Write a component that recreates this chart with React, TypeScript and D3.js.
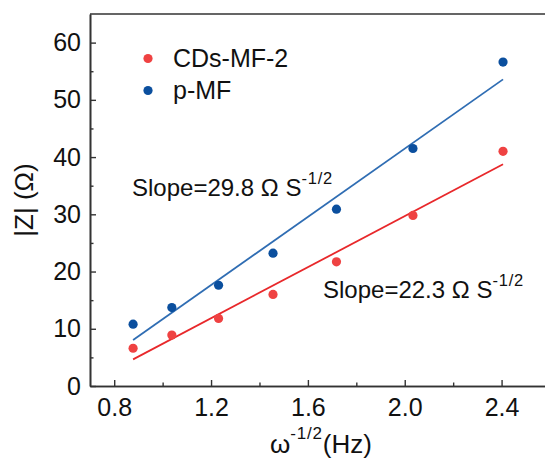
import { useEffect, useRef } from "react";
import * as d3 from "d3";

// omega^-1/2 values (shared by both series)
const xValues = [0.878, 1.038, 1.231, 1.456, 1.718, 2.034, 2.406];
const cdsValues = [6.6, 8.9, 11.8, 16.0, 21.7, 29.8, 41.0];
const pmfValues = [10.8, 13.7, 17.6, 23.2, 30.9, 41.5, 56.6];

// linear fits
const cdsFit = { slope: 22.3, intercept: -14.92 };
const pmfFit = { slope: 29.8, intercept: -18.12 };

const xMajorTicks = [0.8, 1.2, 1.6, 2.0, 2.4];
const xMinorTicks = [1.0, 1.4, 1.8, 2.2];
const yMajorTicks = [0, 10, 20, 30, 40, 50, 60];
const yMinorTicks = [5, 15, 25, 35, 45, 55];

const seriesNames = ["CDs-MF-2", "p-MF"];

const RED_DOT = "#ef4242";
const RED_LINE = "#e8282b";
const BLUE_DOT = "#0b4f9e";
const BLUE_LINE = "#2f6db3";
const AXIS = "#333333";
const FONT = "Arial, 'Liberation Sans', sans-serif";

function App() {
  const ref = useRef<SVGSVGElement>(null);

  useEffect(() => {
    const svg = d3.select(ref.current);
    svg.selectAll("*").remove();

    const width = 545;
    const height = 460;
    const margin = { top: 14, left: 90, bottom: 74 };

    const x = d3.scaleLinear().domain([0.7, 2.6]).range([margin.left, 550]);
    const y = d3
      .scaleLinear()
      .domain([0, 65])
      .range([height - margin.bottom, margin.top]);

    svg.attr("width", width).attr("height", height);

    // fit lines
    const fits = [
      { fit: cdsFit, color: RED_LINE },
      { fit: pmfFit, color: BLUE_LINE },
    ];
    const x0 = d3.min(xValues)!;
    const x1 = d3.max(xValues)!;
    fits.forEach(({ fit, color }) => {
      const line = d3
        .line<number>()
        .x((d) => x(d))
        .y((d) => y(fit.slope * d + fit.intercept));
      svg
        .append("path")
        .datum([x0, x1])
        .attr("d", line)
        .attr("fill", "none")
        .attr("stroke", color)
        .attr("stroke-width", 1.8);
    });

    // points
    const series = [
      { values: cdsValues, color: RED_DOT },
      { values: pmfValues, color: BLUE_DOT },
    ];
    series.forEach(({ values, color }) => {
      svg
        .append("g")
        .selectAll("circle")
        .data(values)
        .enter()
        .append("circle")
        .attr("cx", (_, i) => x(xValues[i]))
        .attr("cy", (d) => y(d))
        .attr("r", 4.6)
        .attr("fill", color);
    });

    // axes
    const styleAxis = (g: any) => {
      g.select(".domain").attr("stroke", AXIS).attr("stroke-width", 1.6);
      g.selectAll(".tick line").attr("stroke", AXIS).attr("stroke-width", 1.4);
      g.selectAll(".tick text")
        .attr("fill", "#111")
        .attr("font-size", 25)
        .attr("font-family", FONT);
    };

    svg
      .append("g")
      .attr("transform", `translate(0,${y(0)})`)
      .call(
        d3
          .axisBottom(x)
          .tickValues(xMajorTicks)
          .tickFormat(d3.format(".1f"))
          .tickSizeInner(-6)
          .tickSizeOuter(0)
          .tickPadding(12)
      )
      .call(styleAxis);

    svg
      .append("g")
      .attr("transform", `translate(0,${y(0)})`)
      .call(
        d3
          .axisBottom(x)
          .tickValues(xMinorTicks)
          .tickFormat(() => "")
          .tickSizeInner(-3.5)
          .tickSizeOuter(0)
      )
      .call(styleAxis);

    svg
      .append("g")
      .attr("transform", `translate(${margin.left},0)`)
      .call(
        d3
          .axisLeft(y)
          .tickValues(yMajorTicks)
          .tickSizeInner(-6)
          .tickSizeOuter(0)
          .tickPadding(9)
      )
      .call(styleAxis);

    svg
      .append("g")
      .attr("transform", `translate(${margin.left},0)`)
      .call(
        d3
          .axisLeft(y)
          .tickValues(yMinorTicks)
          .tickFormat(() => "")
          .tickSizeInner(-3.5)
          .tickSizeOuter(0)
      )
      .call(styleAxis);

    // top and right frame
    svg
      .append("path")
      .attr("d", `M${x(0.7)},${y(65)}H${x(2.6)}V${y(0)}`)
      .attr("fill", "none")
      .attr("stroke", AXIS)
      .attr("stroke-width", 1.6);

    // legend
    const legendColors = [RED_DOT, BLUE_DOT];
    const legend = svg.append("g").attr("font-family", FONT);
    seriesNames.forEach((name, i) => {
      const cy = 58.5 + i * 32;
      legend
        .append("circle")
        .attr("cx", 148)
        .attr("cy", cy)
        .attr("r", 4.6)
        .attr("fill", legendColors[i]);
      legend
        .append("text")
        .attr("x", 173)
        .attr("y", cy + 8)
        .attr("font-size", 25)
        .attr("fill", "#111")
        .text(name);
    });

    // slope annotations
    const annotate = (tx: number, ty: number, value: number) => {
      const t = svg
        .append("text")
        .attr("x", tx)
        .attr("y", ty)
        .attr("font-family", FONT)
        .attr("font-size", 24)
        .attr("fill", "#111");
      t.append("tspan").text(`Slope=${value.toFixed(1)} Ω S`);
      t.append("tspan")
        .attr("dy", -12)
        .attr("font-size", 16.5)
        .attr("letter-spacing", 0.8)
        .text("-1/2");
    };
    annotate(132, 196, pmfFit.slope);
    annotate(323, 298, cdsFit.slope);

    // axis titles
    const xt = svg
      .append("text")
      .attr("x", 270)
      .attr("y", 453)
      .attr("font-family", FONT)
      .attr("font-size", 26)
      .attr("fill", "#111");
    xt.append("tspan").text("ω");
    xt.append("tspan")
      .attr("dy", -14)
      .attr("font-size", 17)
      .attr("letter-spacing", 0.8)
      .text("-1/2");
    xt.append("tspan").attr("dy", 14).text("(Hz)");

    svg
      .append("text")
      .attr("transform", `translate(33,${(y(0) + y(65)) / 2}) rotate(-90)`)
      .attr("text-anchor", "middle")
      .attr("font-family", FONT)
      .attr("font-size", 26)
      .attr("fill", "#111")
      .text("|Z| (Ω)");
  }, []);

  return (
    <svg
      ref={ref}
      style={{ position: "absolute", left: 0, top: 0, background: "#fff" }}
    />
  );
}

export default App;
